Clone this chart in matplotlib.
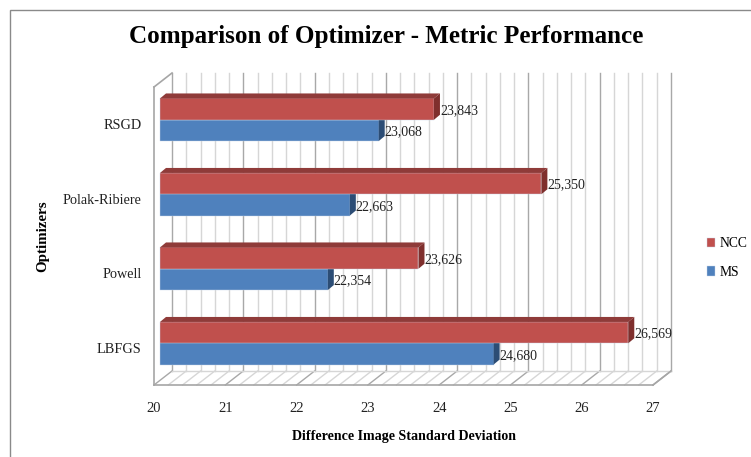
"""Grafico de barras con aspecto 3D: comparacion de optimizador y metrica."""

import matplotlib
matplotlib.use("Agg")
import matplotlib.pyplot as plt
from matplotlib.patches import Polygon, Rectangle
from matplotlib.transforms import ScaledTranslation

optimizers = ["LBFGS", "Powell", "Polak-Ribiere", "RSGD"]
ncc_values = [26.569, 23.626, 25.350, 23.843]
ms_values = [24.680, 22.354, 22.663, 23.068]
x_ticks = [20, 21, 22, 23, 24, 25, 26, 27]

W, H = 751, 457
RED, RED_TOP, RED_SIDE = "#c0504d", "#8f3b39", "#7f2f2d"
BLUE, BLUE_TOP, BLUE_SIDE = "#4f81bd", "#3a608d", "#2c4d75"
GRID = "#d6d6d6"
GRID_MAJOR = "#a8a8a8"

plt.rcParams["font.family"] = ["Liberation Serif", "DejaVu Serif"]

fig = plt.figure(figsize=(W / 100, H / 100), dpi=100)
ax = fig.add_axes([154 / W, 1 - 385 / H, 499 / W, 298 / H])
ax.set_xlim(20, 27)
ax.set_ylim(-0.5, 3.5)

# unidades de datos por pixel
ux = 7 / 499
uy = 4 / 298
wall_dx, wall_dy = 18 * ux, 14 * uy
bar_dx, bar_dy = 6 * ux, 4.5 * uy
depth_dx, depth_dy = 6 * ux, 5 * uy
bar_h = 21.3 * uy

for name in ["top", "right"]:
    ax.spines[name].set_visible(False)
for name in ["left", "bottom"]:
    ax.spines[name].set_color("#a6a6a6")
    ax.spines[name].set_linewidth(1.2)
ax.patch.set_visible(False)

# 1. Paredes: rejilla del fondo y del suelo cada 0.2
for i in range(36):
    x = 20 + i * 0.2
    color = GRID_MAJOR if i % 5 == 0 else GRID
    ax.plot([x + wall_dx, x + wall_dx], [-0.5 + wall_dy, 3.5 + wall_dy], color=color, lw=1, clip_on=False, zorder=1)
    ax.plot([x, x + wall_dx], [-0.5, -0.5 + wall_dy], color=color, lw=1, clip_on=False, zorder=1)
ax.plot([20, 20 + wall_dx], [3.5, 3.5 + wall_dy], color="#a6a6a6", lw=1.2, clip_on=False, zorder=1)
ax.plot([20 + wall_dx, 27 + wall_dx], [-0.5 + wall_dy, -0.5 + wall_dy], color=GRID, lw=1, clip_on=False, zorder=1)
ax.plot([27, 27 + wall_dx], [-0.5, -0.5 + wall_dy], color="#a6a6a6", lw=1.2, clip_on=False, zorder=1)


def draw_bars(y_pos, values, color, top, side, label):
    # cara frontal, superior y lateral de cada barra
    bars = ax.barh(y_pos, [v - 20 for v in values], left=20, height=bar_h, color=color,
                   edgecolor="#c9d6e8", linewidth=0.3, label=label, zorder=3, clip_on=False)
    shift = ax.transData + ScaledTranslation(6 / 100, 4.5 / 100, fig.dpi_scale_trans)
    for bar in bars:
        bar.set_transform(shift)
    for y, v in zip(y_pos, values):
        x0 = 20 + bar_dx
        x1 = v + bar_dx
        y0 = y - bar_h / 2 + bar_dy
        y1 = y + bar_h / 2 + bar_dy
        ax.add_patch(Polygon([(x0, y1), (x1, y1), (x1 + depth_dx, y1 + depth_dy), (x0 + depth_dx, y1 + depth_dy)],
                             facecolor=top, edgecolor="none", clip_on=False, zorder=3))
        ax.add_patch(Polygon([(x1, y0), (x1, y1), (x1 + depth_dx, y1 + depth_dy), (x1 + depth_dx, y0 + depth_dy)],
                             facecolor=side, edgecolor="none", clip_on=False, zorder=3))
        ax.text(x1 + depth_dx, (y0 + y1) / 2 - 1.5 * uy, f"{v:.3f}".replace(".", ","), fontsize=10,
                color="#222222", ha="left", va="center", zorder=4, clip_on=False)
    return bars


y_idx = list(range(len(optimizers)))
# primero MS: la cara roja tapa el lateral azul
ms_bars = draw_bars([y - bar_h / 2 for y in y_idx], ms_values, BLUE, BLUE_TOP, BLUE_SIDE, "MS")
ncc_bars = draw_bars([y + bar_h / 2 for y in y_idx], ncc_values, RED, RED_TOP, RED_SIDE, "NCC")

ax.set_xticks(x_ticks)
ax.set_xticklabels([str(t) for t in x_ticks], fontsize=10.5, color="#222222")
ax.set_yticks(y_idx)
ax.set_yticklabels(optimizers, fontsize=10.3, color="#222222")
ax.tick_params(axis="x", length=0, pad=12)
ax.tick_params(axis="y", length=0, pad=9)

ax.set_xlabel("Difference Image Standard Deviation", fontsize=10.1, fontweight="bold", labelpad=11)
fig.text(43 / W, 1 - 236 / H, "Optimizers", rotation=90, fontsize=10.8, fontweight="bold", ha="center", va="center")
fig.text(386.5 / W, 1 - 37 / H, "Comparison of Optimizer - Metric Performance", fontsize=18.1,
         fontweight="bold", ha="center", va="center")

fig.legend(handles=[ncc_bars, ms_bars], labels=["NCC", "MS"], loc="center left",
           bbox_to_anchor=(695 / W, 1 - 258 / H), frameon=False, fontsize=9.8,
           handlelength=0.58, handleheight=0.7, handletextpad=0.3, labelspacing=1.15)

# marco exterior del grafico
fig.add_artist(Rectangle((10 / W, -0.05), 1.2, 1 - 9.5 / H + 0.05, transform=fig.transFigure,
                         fill=False, edgecolor="#8a8a8a", linewidth=1))

fig.savefig("out.png", dpi=100)
